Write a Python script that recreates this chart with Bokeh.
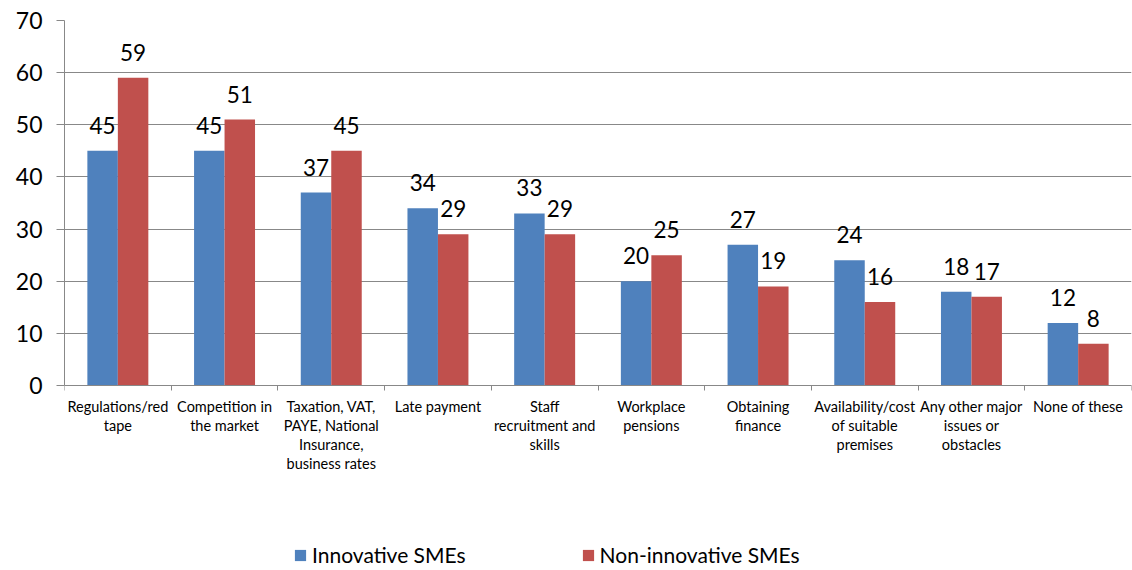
from bokeh.plotting import figure
from bokeh.models import (ColumnDataSource, Range1d, FixedTicker, LabelSet, Legend, LegendItem)
from bokeh.core.properties import value
from bokeh.embed import file_html
from bokeh.resources import INLINE

categories = ["Regulations/red\ntape", "Competition in\nthe market",
              "Taxation, VAT,\nPAYE, National\nInsurance,\nbusiness rates",
              "Late payment", "Staff\nrecruitment and\nskills", "Workplace\npensions",
              "Obtaining\nfinance", "Availability/cost\nof suitable\npremises",
              "Any other major\nissues or\nobstacles", "None of these"]
innovative = [45, 45, 37, 34, 33, 20, 27, 24, 18, 12]
non_innovative = [59, 51, 45, 29, 29, 25, 19, 16, 17, 8]
y_ticks = [0, 10, 20, 30, 40, 50, 60, 70]
series_names = ["Innovative SMEs", "Non-innovative SMEs"]

BLUE = "#4F81BD"
RED = "#C0504D"
GRAY = "#888888"
FONT = "Lato"
BW = 1 / 3.5

# layout (pixels): plot area 365 px for 0..70, 185 px below for labels + legend
AXIS_H = 365
BELOW_H = 185
Y_MAX = 70
Y_MIN = -BELOW_H * Y_MAX / AXIS_H

n = len(categories)
centers = [i + 0.5 for i in range(n)]
src1 = ColumnDataSource(dict(x=[c - BW / 2 for c in centers], y=innovative,
                             t=[str(v) for v in innovative]))
src2 = ColumnDataSource(dict(x=[c + BW / 2 for c in centers], y=non_innovative,
                             t=[str(v) for v in non_innovative]))

p = figure(frame_width=1067, frame_height=AXIS_H + BELOW_H, output_backend="svg",
           toolbar_location=None,
           x_range=Range1d(0, n), y_range=Range1d(Y_MIN, Y_MAX),
           min_border_left=64, min_border_right=1, min_border_top=20, min_border_bottom=0)
p.outline_line_color = None
p.background_fill_color = "white"

r1 = p.vbar(x="x", top="y", bottom=0, width=BW, source=src1, fill_color=BLUE, line_color=None)
r2 = p.vbar(x="x", top="y", bottom=0, width=BW, source=src2, fill_color=RED, line_color=None)

for s in (src1, src2):
    p.add_layout(LabelSet(x="x", y="y", text="t", source=s, y_offset=17,
                          text_align="center", text_baseline="alphabetic",
                          text_font=value(FONT), text_font_size=value("22.5px"),
                          text_color="black"))

p.xgrid.visible = False
p.ygrid.grid_line_color = GRAY
p.ygrid.ticker = FixedTicker(ticks=y_ticks)

ya = p.yaxis[0]
ya.ticker = FixedTicker(ticks=y_ticks)
ya.bounds = (0, Y_MAX)
ya.axis_line_color = GRAY
ya.major_tick_line_color = GRAY
ya.major_tick_out = 8
ya.major_tick_in = 0
ya.minor_tick_line_color = None
ya.major_label_standoff = 14
ya.major_label_text_font = FONT
ya.major_label_text_font_size = "23px"
ya.major_label_text_color = "black"

xa = p.xaxis[0]
xa.fixed_location = 0
xa.ticker = FixedTicker(ticks=centers, minor_ticks=list(range(n + 1)))
xa.major_label_overrides = {c: lab for c, lab in zip(centers, categories)}
xa.axis_line_color = GRAY
xa.major_tick_line_color = None
xa.major_tick_out = 0
xa.major_tick_in = 0
xa.minor_tick_line_color = GRAY
xa.minor_tick_out = 5
xa.minor_tick_in = 0
xa.major_label_standoff = 7
xa.major_label_text_font = FONT
xa.major_label_text_font_size = "14.5px"
xa.major_label_text_line_height = 1.12
xa.major_label_text_color = "black"

legend = Legend(items=[LegendItem(label=series_names[0], renderers=[r1]),
                       LegendItem(label=series_names[1], renderers=[r2])],
                orientation="horizontal", location=(229, 3),
                glyph_width=14, glyph_height=14, label_standoff=5, spacing=115,
                label_text_font=FONT, label_text_font_size="21px", label_text_color="black",
                border_line_color=None, background_fill_alpha=0,
                padding=0, margin=0)
p.add_layout(legend, "center")

open("out.html", "w").write(file_html(p, INLINE))
